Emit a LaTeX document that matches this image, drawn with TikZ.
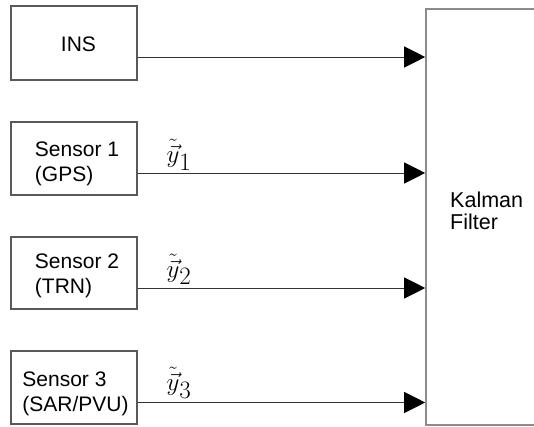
\RequirePackage{fix-cm}
\documentclass[tikz,border=0pt]{standalone}
\usepackage{fontspec}
\setmainfont{Liberation Sans}
\usetikzlibrary{arrows.meta}
\begin{document}
\begin{tikzpicture}[x=1pt,y=-1pt,
  box/.style={draw=black!65, line width=1.1pt, minimum width=126pt, inner sep=0pt},
  kbox/.style={draw=black!45, line width=1.6pt, inner sep=0pt},
  txt/.style={font=\fontsize{21}{25}\selectfont, align=left, inner sep=0pt},
  ktxt/.style={font=\fontsize{21.5}{21.5}\selectfont, align=left, inner sep=0pt, anchor=north west},
  arr/.style={draw=black!80, line width=0.9pt, -{Triangle[length=21pt,width=21pt,color=black]}},
  lab/.style={inner sep=0pt, font=\fontsize{25}{30}\selectfont}]
\clip (0,0) rectangle (534,427);
\fill[white] (0,0) rectangle (534,427);
% Kalman filter box (right side runs off the page)
\node[kbox, minimum width=134pt, minimum height=416pt] (kf) at (493,217) {};
\node[ktxt] (tkf) at (450,192) {Kalman\\Filter};
% source boxes
\node[box, minimum height=74pt] (ins) at (74,43) {};
\node[txt] (tins) at (78.5,44.5) {INS};
\node[box, minimum height=73pt] (s1) at (74,158.5) {};
\node[txt] (ts1) at (77,163.5) {Sensor 1\\(GPS)};
\node[box, minimum height=72pt] (s2) at (74,273) {};
\node[txt] (ts2) at (77,275.5) {Sensor 2\\(TRN)};
\node[box, minimum height=73pt] (s3) at (74,387.5) {};
\node[txt] (ts3) at (75.5,394) {Sensor 3\\(SAR/PVU)};
% connectors
\draw[arr] (ins.east |- 0,57) -- (kf.west |- 0,57);
\draw[arr] (s1.east |- 0,173) -- (kf.west |- 0,173);
\draw[arr] (s2.east |- 0,288) -- (kf.west |- 0,288);
\draw[arr] (s3.east |- 0,402.5) -- (kf.west |- 0,402.5);
% labels
\node[lab] (l1) at (179,155) {$\tilde{\vec{y}}_{\textstyle 1}$};
\node[lab] (l2) at (179,269.5) {$\tilde{\vec{y}}_{\textstyle 2}$};
\node[lab] (l3) at (179,383) {$\tilde{\vec{y}}_{\textstyle 3}$};
\end{tikzpicture}
\end{document}
